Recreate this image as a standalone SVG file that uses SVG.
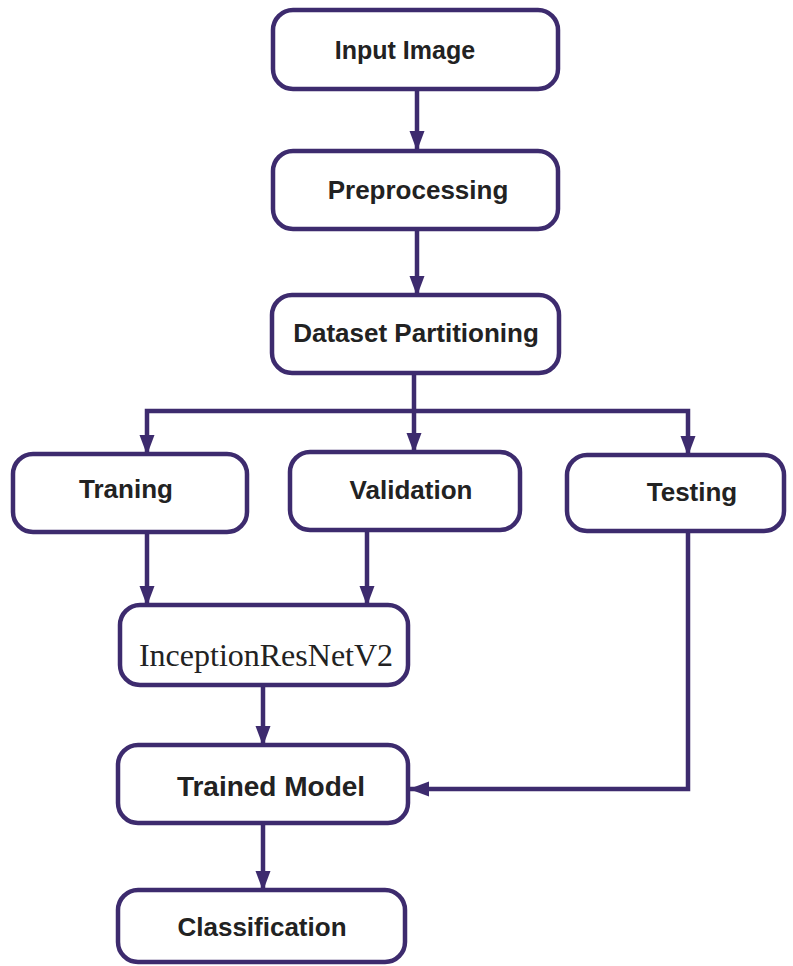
<svg xmlns="http://www.w3.org/2000/svg" width="793" height="966" viewBox="0 0 793 966">
<style>
.box{fill:#ffffff;stroke:#3d2b6e;stroke-width:4.5}
.lbl{font-family:"Liberation Sans",Arial,sans-serif;font-weight:bold;font-size:26px;fill:#222222;text-anchor:middle}
.ser{font-family:"Liberation Serif","Times New Roman",serif;font-size:32px;fill:#222222;text-anchor:middle}
.con{fill:none;stroke:#3d2b6e;stroke-width:4.5;marker-end:url(#ah)}
</style>
<defs>
<marker id="ah" markerUnits="userSpaceOnUse" markerWidth="20" markerHeight="20" viewBox="0 0 20 20" refX="19" refY="10" orient="auto">
<path d="M0,2.5 L20,10 L0,17.5 Z" fill="#3d2b6e"/>
</marker>
</defs>
<rect width="793" height="966" fill="#ffffff"/>
<g id="connectors">
<path class="con" d="M417,89 V150"/>
<path class="con" d="M417,229 V295"/>
<path class="con" d="M414,373 V452"/>
<path class="con" d="M414,411 H147 V454"/>
<path class="con" d="M414,411 H688 V455"/>
<path class="con" d="M147,532 V605"/>
<path class="con" d="M367,530 V605"/>
<path class="con" d="M263,685 V745"/>
<path class="con" d="M263,823 V890"/>
<path class="con" d="M688,530 V789 H410"/>
</g>
<g id="input-image">
<rect class="box" x="273" y="10" width="285" height="79" rx="20"/>
<text class="lbl" x="405" y="59" style="font-size:25px">Input Image</text>
</g>
<g id="preprocessing">
<rect class="box" x="273" y="151" width="285" height="78" rx="20"/>
<text class="lbl" x="418" y="199">Preprocessing</text>
</g>
<g id="dataset-partitioning">
<rect class="box" x="272" y="295" width="287" height="78" rx="20"/>
<text class="lbl" x="416" y="342">Dataset Partitioning</text>
</g>
<g id="training">
<rect class="box" x="13" y="454" width="234" height="78" rx="20"/>
<text class="lbl" x="126" y="498">Traning</text>
</g>
<g id="validation">
<rect class="box" x="290" y="452" width="230" height="78" rx="20"/>
<text class="lbl" x="411" y="499">Validation</text>
</g>
<g id="testing">
<rect class="box" x="567" y="455" width="217" height="76" rx="20"/>
<text class="lbl" x="692" y="501">Testing</text>
</g>
<g id="inceptionresnetv2">
<rect class="box" x="120" y="605" width="288" height="80" rx="20"/>
<text class="ser" x="266" y="666">InceptionResNetV2</text>
</g>
<g id="trained-model">
<rect class="box" x="118" y="745" width="290" height="78" rx="20"/>
<text class="lbl" x="271" y="796" style="font-size:28px">Trained Model</text>
</g>
<g id="classification">
<rect class="box" x="118" y="890" width="287" height="72" rx="20"/>
<text class="lbl" x="262" y="936">Classification</text>
</g>
</svg>
